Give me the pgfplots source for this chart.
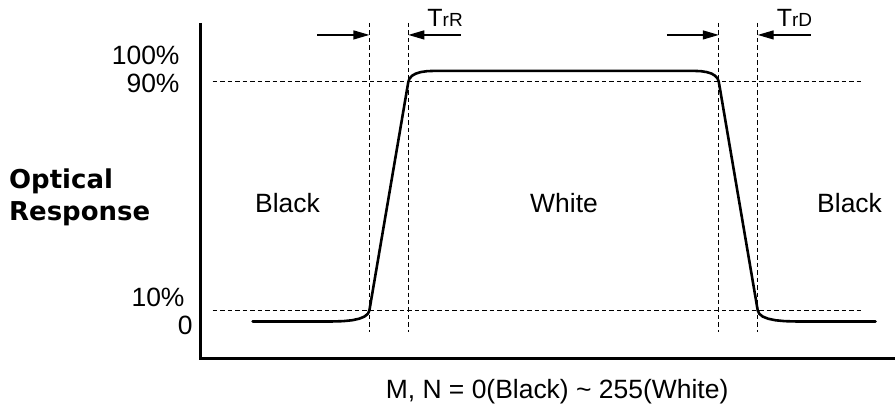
\documentclass[border=0pt]{standalone}
\usepackage{pgfplots}
\pgfplotsset{compat=1.18}
\usetikzlibrary{arrows.meta}
\usepackage{fontspec}
\setmainfont{Liberation Sans}
\newfontfamily\verd{DejaVu Sans}
\newcommand{\lbl}{\fontsize{26.5}{31}\selectfont}
\begin{document}
\begin{tikzpicture}
\begin{axis}[width=896pt,height=407pt,scale only axis,
  xmin=0,xmax=896,ymin=0,ymax=407,hide axis,clip=false]
% axes
\addplot[black,line width=3pt,line join=miter,mark=none] coordinates {(201,384) (201,48) (896,48)};
% dashed reference lines
\addplot[black,line width=1.2pt,dash pattern=on 4.5pt off 3pt,mark=none] coordinates {(213,325) (863,325)};
\addplot[black,line width=1.2pt,dash pattern=on 4.5pt off 3pt,mark=none] coordinates {(213,96) (863,96)};
\addplot[black,line width=1.2pt,dash pattern=on 4.5pt off 3pt,mark=none] coordinates {(370,384) (370,74)};
\addplot[black,line width=1.2pt,dash pattern=on 4.5pt off 3pt,mark=none] coordinates {(409,384) (409,74)};
\addplot[black,line width=1.2pt,dash pattern=on 4.5pt off 3pt,mark=none] coordinates {(720,384) (720,74)};
\addplot[black,line width=1.2pt,dash pattern=on 4.5pt off 3pt,mark=none] coordinates {(759,384) (759,74)};
% optical response curve
\addplot[black,line width=2.6pt,line join=round,line cap=round,mark=none] coordinates {
(253,85) (333,85) (343.79,85.31) (352.69,86.22) (359.8,87.75) (365.02,89.89) (368.45,92.64) (370,96)
(409,325) (410.25,328.36) (412.7,331.11) (416.45,333.25) (421.36,334.78) (427.58,335.69) (435,336)
(695,336) (702.12,335.69) (707.97,334.78) (712.8,333.25) (716.3,331.11) (718.78,328.36) (720,325)
(759,96) (760.59,92.64) (764.0,89.89) (769.45,87.75) (776.67,86.22) (785.91,85.31) (797,85) (877,85)};
% arrows
\addplot[black,line width=1.3pt,-{Triangle[length=16pt,width=9pt]},mark=none] coordinates {(318,372) (370,372)};
\addplot[black,line width=1.3pt,-{Triangle[length=16pt,width=9pt]},mark=none] coordinates {(462,372) (409,372)};
\addplot[black,line width=1.3pt,-{Triangle[length=16pt,width=9pt]},mark=none] coordinates {(668,372) (720,372)};
\addplot[black,line width=1.3pt,-{Triangle[length=16pt,width=9pt]},mark=none] coordinates {(812,372) (759,372)};
% labels
\node[anchor=base west,inner sep=0pt] at (axis cs:428,380) {{\fontsize{25}{28}\selectfont T}{\fontsize{19}{22}\selectfont rR}};
\node[anchor=base west,inner sep=0pt] at (axis cs:778,380) {{\fontsize{25}{28}\selectfont T}{\fontsize{19}{22}\selectfont rD}};
\node[anchor=base east,inner sep=0pt] at (axis cs:180,342) {\lbl 100\%};
\node[anchor=base east,inner sep=0pt] at (axis cs:180,314) {\lbl 90\%};
\node[anchor=base east,inner sep=0pt] at (axis cs:185,100) {\lbl 10\%};
\node[anchor=base east,inner sep=0pt] at (axis cs:193,72) {\lbl 0};
\node[anchor=base,inner sep=0pt] at (axis cs:288,194) {\lbl Black};
\node[anchor=base,inner sep=0pt] at (axis cs:565,194) {\lbl White};
\node[anchor=base,inner sep=0pt] at (axis cs:851,194) {\lbl Black};
\node[anchor=base west,inner sep=0pt] at (axis cs:9,218) {\verd\bfseries\fontsize{26}{30}\selectfont Optical};
\node[anchor=base west,inner sep=0pt] at (axis cs:9,186) {\verd\bfseries\fontsize{26}{30}\selectfont Response};
\node[anchor=base,inner sep=0pt] at (axis cs:558,8) {\lbl M, N = 0(Black) \textasciitilde{} 255(White)};
\end{axis}
\path (current axis.south west) rectangle (current axis.north east);
\end{tikzpicture}
\end{document}
